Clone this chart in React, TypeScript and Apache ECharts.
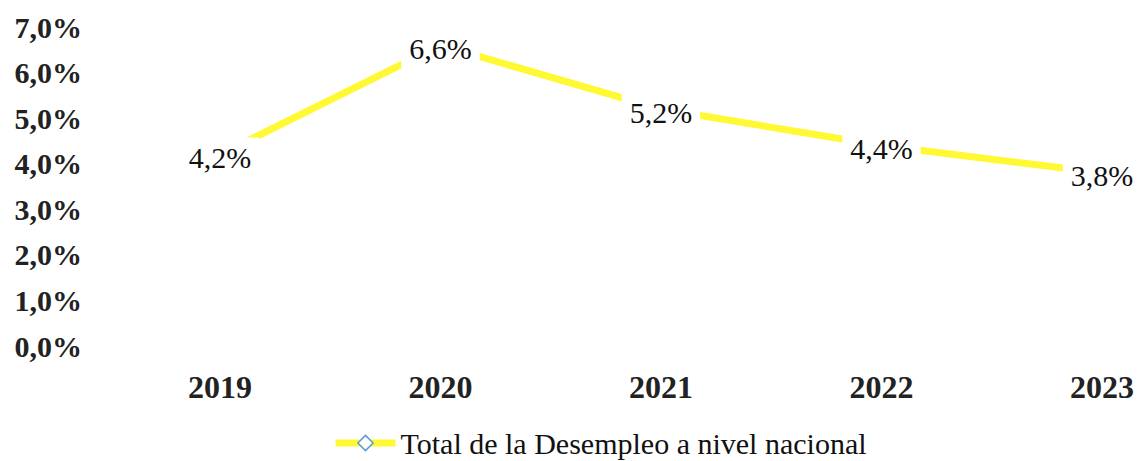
import React, { useEffect, useRef } from "react";
import * as echarts from "echarts";

const years = ["2019", "2020", "2021", "2022", "2023"];
const desempleo = [4.2, 6.6, 5.2, 4.4, 3.8];
const seriesName = "Total de la Desempleo a nivel nacional";
const yMin = 0;
const yMax = 7;
const yStep = 1;

const fmt = (v: number) => v.toFixed(1).replace(".", ",") + "%";

export default function App() {
  const ref = useRef<HTMLDivElement>(null);
  useEffect(() => {
    if (!ref.current) return;
    const chart = echarts.init(ref.current, undefined, { renderer: "svg" });
    const serif = "'Liberation Serif', 'Times New Roman', serif";
    chart.setOption({
      animation: false,
      backgroundColor: "#ffffff",
      grid: { left: 220, right: 36, top: 27, bottom: 115 },
      legend: {
        data: [seriesName],
        left: 332,
        top: 426,
        padding: 0,
        itemWidth: 60,
        itemHeight: 19,
        textStyle: { fontFamily: serif, fontSize: 30, color: "#111", lineHeight: 34 },
        itemStyle: { color: "#ffffff", borderColor: "#5b9bd5", borderWidth: 1.5 },
        lineStyle: { color: "#FFF933", width: 7 },
      },
      xAxis: {
        type: "category",
        data: years,
        boundaryGap: false,
        axisLine: { show: false },
        axisTick: { show: false },
        axisLabel: {
          margin: 25,
          fontFamily: serif,
          fontWeight: "bold",
          fontSize: 32,
          color: "#222",
        },
      },
      yAxis: {
        type: "value",
        min: yMin,
        max: yMax,
        interval: yStep,
        splitLine: { show: false },
        axisLine: { show: false },
        axisTick: { show: false },
        axisLabel: {
          margin: 138,
          fontFamily: serif,
          fontWeight: "bold",
          fontSize: 30,
          color: "#222",
          formatter: (v: number) => fmt(v),
        },
      },
      series: [
        {
          name: seriesName,
          type: "line",
          data: desempleo,
          symbol: "diamond",
          symbolSize: 2,
          itemStyle: { color: "#FFF933" },
          lineStyle: { color: "#FFF933", width: 7 },
          label: {
            show: true,
            position: "inside",
            offset: [0, 3],
            fontFamily: serif,
            fontSize: 30,
            color: "#111",
            backgroundColor: "#ffffff",
            padding: [5, 8],
            formatter: (p: any) => fmt(p.value),
          },
        },
      ],
    });
    return () => chart.dispose();
  }, []);
  return (
    <div
      ref={ref}
      style={{ position: "fixed", left: 0, top: 0, width: 1138, height: 461 }}
    />
  );
}
